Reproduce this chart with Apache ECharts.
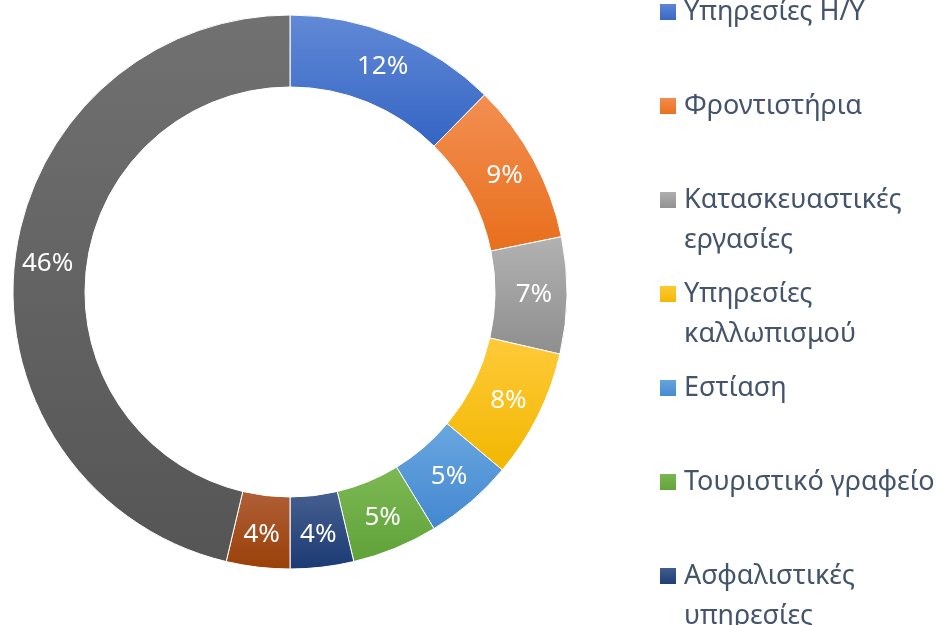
<!DOCTYPE html>
<html>
<head>
<meta charset="utf-8">
<script src="https://cdn.jsdelivr.net/npm/echarts@6/dist/echarts.min.js"></script>
<style>
    html, body { margin: 0; padding: 0; background: #fff; }
    #chart { width: 943px; height: 625px; }
</style>
</head>
<body>
<div id="chart"></div>
<script>
// κατηγορίες και ποσοστά (διαβασμένα από τη γωνία κάθε τομέα)
const categories = ['Υπηρεσίες Η/Υ', 'Φροντιστήρια', 'Κατασκευαστικές εργασίες', 'Υπηρεσίες καλλωπισμού', 'Εστίαση', 'Τουριστικό γραφείο', 'Ασφαλιστικές υπηρεσίες', 'Λογιστικό γραφείο', 'Άλλο'];
const legendLines = [['Υπηρεσίες Η/Υ'], ['Φροντιστήρια'], ['Κατασκευαστικές', 'εργασίες'], ['Υπηρεσίες', 'καλλωπισμού'], ['Εστίαση'], ['Τουριστικό γραφείο'], ['Ασφαλιστικές', 'υπηρεσίες'], ['Λογιστικό γραφείο'], ['Άλλο']];
const values = [12.4, 9.4, 6.8, 7.5, 5.2, 5.0, 3.7, 3.7, 46.3];
// χρώματα: πάνω (ανοιχτό) -> κάτω (σκούρο)
const colorTop = ['#6189d6', '#f38f52', '#b2b2b2', '#ffca3a', '#6aa7e0', '#7db955', '#46608f', '#b05f38', '#717171'];
const colorBottom = ['#3465c4', '#e86f1c', '#8e8e8e', '#f2b700', '#4287cf', '#5fa238', '#1b3a74', '#9a4008', '#555555'];

const chart = echarts.init(document.getElementById('chart'));

const pieData = categories.map((name, i) => ({
    name: name,
    value: values[i],
    itemStyle: {
        color: new echarts.graphic.LinearGradient(0, 0, 0, 1, [
            { offset: 0, color: colorTop[i] },
            { offset: 1, color: colorBottom[i] }
        ])
    }
}));

const option = {
    animation: false,
    legend: {
        orient: 'vertical',
        left: 658,
        top: -48,
        height: 1200,
        padding: 0,
        itemGap: -26,
        itemWidth: 18,
        itemHeight: 18,
        icon: 'rect',
        data: categories,
        formatter: function (name) {
            const lines = legendLines[categories.indexOf(name)];
            // κενή γραμμή πάνω ώστε το τετράγωνο να στοιχίζεται με την 1η γραμμή
            return '\n' + lines[0] + '\n' + (lines[1] || '');
        },
        textStyle: {
            fontFamily: 'Noto Sans',
            fontSize: 27,
            lineHeight: 40,
            color: '#44546A',
            padding: [0, 0, 0, 2]
        }
    },
    series: [
        {
            type: 'pie',
            center: [290, 292],
            radius: [205, 277],
            startAngle: 90,
            clockwise: true,
            avoidLabelOverlap: false,
            itemStyle: { borderColor: '#ffffff', borderWidth: 1 },
            label: {
                show: true,
                position: 'inside',
                color: '#ffffff',
                fontFamily: 'Noto Sans',
                fontSize: 26,
                formatter: function (p) { return Math.round(p.percent) + '%'; }
            },
            labelLine: { show: false },
            emphasis: { disabled: true },
            data: pieData
        }
    ]
};

chart.setOption(option);
</script>
</body>
</html>
